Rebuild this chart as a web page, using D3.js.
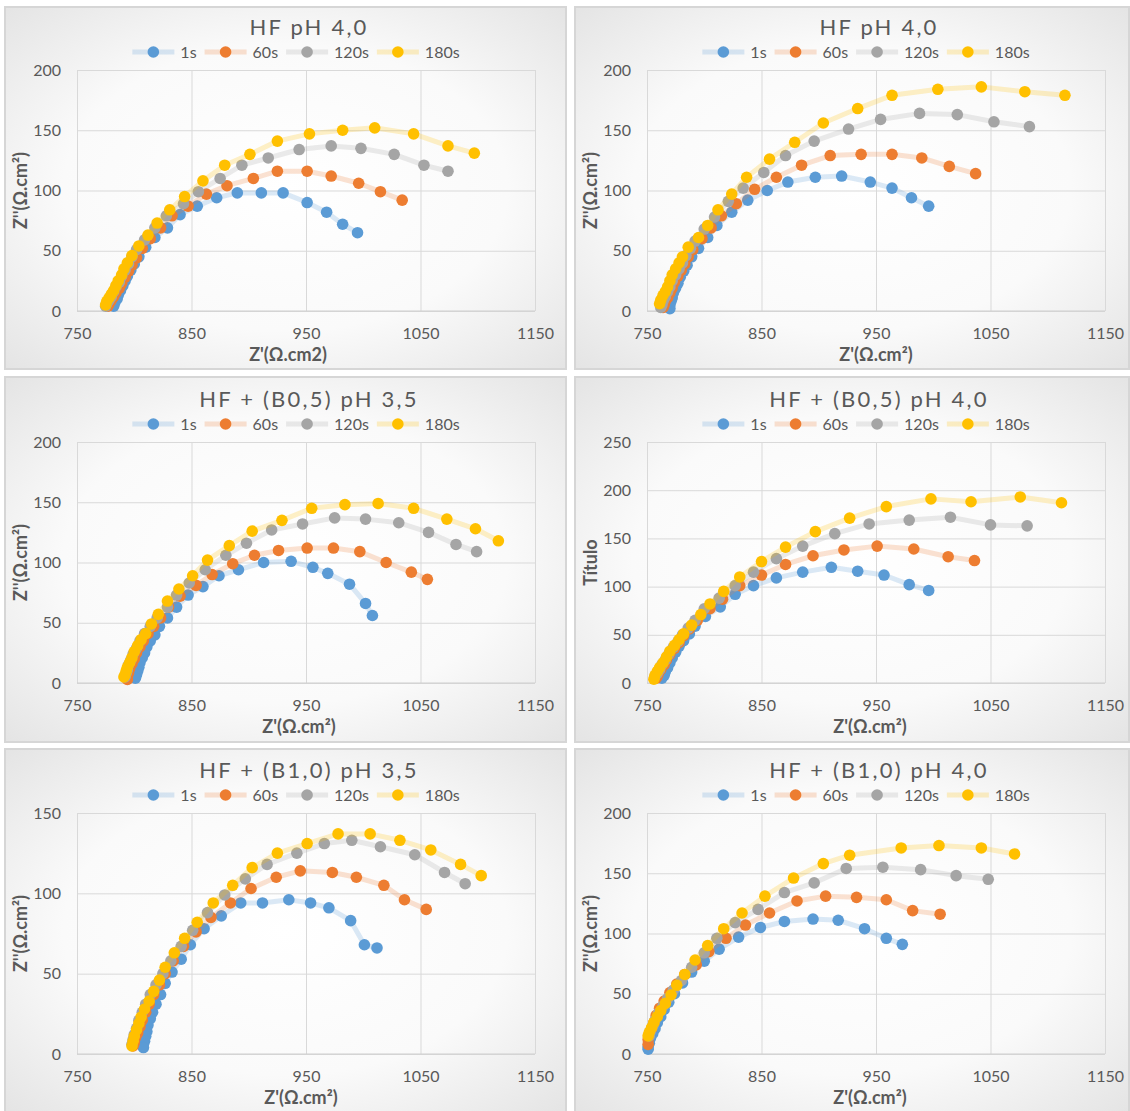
<!DOCTYPE html>
<html>
<head>
<meta charset="utf-8">
<script src="https://cdn.jsdelivr.net/npm/d3@7"></script>
<style>
body { margin: 0; background: #ffffff; }
text { font-family: Lato, "Open Sans", sans-serif; fill: #595959; }
</style>
</head>
<body>
<div id="chart"></div>
<script>
// Panel texts
const panelTitles = ["HF pH 4,0", "HF pH 4,0", "HF + (B0,5) pH 3,5", "HF + (B0,5) pH 4,0", "HF + (B1,0) pH 3,5", "HF + (B1,0) pH 4,0"];
const xTitles = ["Z'(\u03A9.cm2)", "Z'(\u03A9.cm\u00B2)", "Z'(\u03A9.cm\u00B2)", "Z'(\u03A9.cm\u00B2)", "Z'(\u03A9.cm\u00B2)", "Z'(\u03A9.cm\u00B2)"];
const yTitles = ["Z''(\u03A9.cm\u00B2)", "Z''(\u03A9.cm\u00B2)", "Z''(\u03A9.cm\u00B2)", "T\u00EDtulo", "Z''(\u03A9.cm\u00B2)", "Z''(\u03A9.cm\u00B2)"];
const seriesNames = ["1s", "60s", "120s", "180s"];
const seriesColors = ["#5B9BD5", "#ED7D31", "#A5A5A5", "#FFC000"];

// Tick values
const xTicks = [750, 850, 950, 1050, 1150];
const yTicks200 = [0, 50, 100, 150, 200];
const yTicks250 = [0, 50, 100, 150, 200, 250];
const yTicks150 = [0, 50, 100, 150];
const panelYTicks = [yTicks200, yTicks200, yTicks200, yTicks250, yTicks150, yTicks200];

// [Z', Z''] points
const pA_1s = [[995,65],[982,72],[968,82],[951,90],[930,98],[911,98],[890,98],[872,94],[855,87],[840,80],[829,69],[818,61],[810,53],[804,45],[800,39],[797,34],[794,29],[792,25],[790,21],[788,17],[786,13],[785,10],[783,7],[782,4]];
const pA_60s = [[1034,92],[1015,99],[996,106],[972,112],[951,116],[925,116],[904,110],[881,104],[863,97],[847,87],[833,79],[823,69],[814,60],[807,52],[802,44],[798,38],[795,33],[792,28],[789,23],[787,19],[784,15],[782,12],[780,9],[778,6],[777,4]];
const pA_120s = [[1074,116],[1053,121],[1027,130],[998,135],[972,137],[944,134],[917,127],[894,121],[875,110],[856,99],[843,89],[828,79],[818,69],[809,59],[802,51],[798,45],[795,39],[792,34],[789,29],[787,24],[784,20],[782,16],[780,12],[778,9],[776,6],[775,4]];
const pA_180s = [[1097,131],[1074,137],[1044,147],[1010,152],[982,150],[953,147],[925,141],[901,130],[879,121],[860,108],[844,95],[831,84],[820,73],[812,63],[804,54],[798,46],[794,40],[791,35],[789,30],[786,25],[784,21],[782,17],[780,14],[778,11],[776,8],[775,5]];

const pB_1s = [[996,87],[981,94],[964,102],[945,107],[920,112],[897,111],[873,107],[855,100],[838,92],[824,82],[811,71],[803,61],[795,52],[789,45],[785,38],[782,33],[779,28],[777,23],[775,19],[773,15],[772,11],[771,8],[770,5],[770,2]];
const pB_60s = [[1037,114],[1014,120],[990,127],[964,130],[937,130],[910,129],[885,121],[863,111],[844,101],[828,89],[815,79],[806,69],[798,60],[790,51],[786,45],[783,39],[780,34],[777,29],[774,24],[772,19],[770,15],[768,11],[766,8],[765,5],[764,3]];
const pB_120s = [[1084,153],[1053,157],[1021,163],[988,164],[954,159],[926,151],[896,141],[871,129],[852,115],[834,102],[821,91],[809,78],[800,68],[792,58],[788,52],[784,46],[781,40],[778,35],[775,30],[772,25],[770,20],[768,16],[766,12],[764,8],[763,5],[762,3]];
const pB_180s = [[1115,179],[1080,182],[1042,186],[1004,184],[964,179],[934,168],[904,156],[879,140],[857,126],[837,111],[824,97],[812,84],[803,71],[795,61],[786,53],[781,45],[778,40],[775,35],[772,30],[770,25],[768,20],[766,16],[764,13],[762,9],[761,6]];

const pC_1s = [[1008,56],[1002,66],[988,82],[969,91],[956,96],[937,101],[913,100],[891,94],[874,89],[860,80],[847,73],[837,63],[829,54],[822,47],[818,40],[814,35],[811,30],[809,25],[807,21],[805,17],[804,13],[803,10],[802,7],[801,4]];
const pC_60s = [[1056,86],[1042,92],[1020,100],[997,109],[974,112],[951,112],[926,110],[905,106],[886,99],[868,90],[854,81],[840,72],[830,63],[823,54],[817,47],[812,41],[808,35],[805,30],[802,25],[800,20],[798,16],[796,12],[795,8],[794,5],[794,3]];
const pC_120s = [[1099,109],[1081,115],[1057,125],[1031,133],[1002,136],[975,137],[947,132],[920,127],[898,116],[880,106],[862,94],[848,83],[837,73],[829,63],[820,54],[814,47],[809,41],[805,35],[802,29],[799,24],[797,19],[795,15],[794,11],[793,8],[792,5]];
const pC_180s = [[1118,118],[1098,128],[1073,136],[1044,145],[1013,149],[984,148],[955,145],[929,135],[903,126],[883,114],[864,102],[851,89],[839,78],[829,68],[821,57],[815,49],[810,41],[806,36],[803,31],[800,26],[798,21],[796,17],[794,13],[793,10],[792,7],[791,5]];

const pD_1s = [[996,96],[979,102],[957,112],[934,116],[911,120],[886,115],[863,109],[843,101],[827,92],[814,79],[801,69],[792,59],[787,51],[782,44],[778,38],[775,32],[772,26],[770,21],[768,16],[766,12],[765,8],[763,5]];
const pD_60s = [[1036,127],[1013,131],[983,139],[951,142],[922,138],[895,132],[871,123],[850,112],[831,101],[816,87],[805,77],[794,65],[787,56],[782,49],[778,42],[774,36],[770,30],[767,24],[765,19],[762,14],[760,10],[759,7],[758,5]];
const pD_120s = [[1082,163],[1050,164],[1015,172],[979,169],[944,165],[914,155],[886,142],[863,129],[843,115],[827,101],[813,88],[800,77],[792,65],[786,57],[781,50],[777,43],[773,37],[769,30],[766,24],[763,19],[761,14],[759,10],[757,7]];
const pD_180s = [[1112,187],[1076,193],[1033,188],[998,191],[959,183],[927,171],[897,157],[871,141],[850,126],[831,110],[817,95],[805,82],[797,71],[789,60],[782,51],[778,45],[774,39],[770,33],[767,27],[764,21],[761,16],[759,12],[757,8],[756,4]];

const pE_1s = [[1012,66],[1001,68],[989,83],[970,91],[954,94],[935,96],[912,94],[893,94],[876,86],[861,78],[849,68],[841,59],[833,51],[827,44],[823,37],[819,31],[816,26],[814,22],[812,18],[811,14],[810,11],[809,8],[808,6],[808,4]];
const pE_60s = [[1055,90],[1036,96],[1018,105],[994,110],[973,113],[945,114],[924,110],[902,103],[884,94],[867,85],[854,76],[843,67],[834,58],[827,50],[822,43],[817,37],[813,31],[810,26],[807,21],[805,17],[803,13],[801,10],[800,7],[799,5]];
const pE_120s = [[1089,106],[1071,113],[1045,124],[1015,129],[990,133],[966,131],[942,125],[916,118],[897,109],[879,99],[864,88],[851,77],[841,67],[832,58],[825,50],[819,43],[814,37],[810,31],[807,26],[804,21],[802,16],[800,12],[799,9],[798,6]];
const pE_180s = [[1103,111],[1085,118],[1059,127],[1032,133],[1006,137],[978,137],[951,131],[925,125],[903,116],[886,105],[869,94],[855,82],[844,72],[835,63],[827,54],[822,46],[817,39],[813,33],[809,28],[806,23],[804,19],[802,15],[800,11],[799,8],[798,5]];

const pF_1s = [[973,91],[959,96],[940,104],[917,111],[895,112],[870,110],[849,105],[830,97],[813,87],[800,77],[789,68],[781,59],[774,50],[769,43],[765,37],[762,31],[759,26],[757,21],[755,17],[753,13],[752,9],[751,6],[751,4]];
const pF_60s = [[1006,116],[982,119],[959,128],[933,130],[906,131],[881,127],[857,117],[836,107],[819,96],[804,85],[793,74],[783,66],[776,58],[770,51],[765,44],[761,38],[758,32],[756,26],[754,21],[752,16],[751,12],[751,8]];
const pF_120s = [[1048,145],[1020,148],[989,153],[956,155],[924,154],[896,142],[870,134],[847,120],[827,109],[811,96],[800,84],[789,72],[780,61],[773,53],[768,46],[764,40],[760,34],[757,28],[755,23],[753,19],[752,15]];
const pF_180s = [[1071,166],[1042,171],[1005,173],[972,171],[927,165],[904,158],[878,146],[853,131],[833,117],[817,104],[803,90],[792,78],[783,66],[776,57],[771,49],[766,42],[762,36],[759,31],[756,26],[754,22],[752,18],[751,15]];

const panelSeries = [
    [pA_1s, pA_60s, pA_120s, pA_180s],
    [pB_1s, pB_60s, pB_120s, pB_180s],
    [pC_1s, pC_60s, pC_120s, pC_180s],
    [pD_1s, pD_60s, pD_120s, pD_180s],
    [pE_1s, pE_60s, pE_120s, pE_180s],
    [pF_1s, pF_60s, pF_120s, pF_180s]
];

// Layout of the 3x2 grid
const cols = [{x: 5, w: 561}, {x: 575, w: 554}];
const rows = [{y: 7, h: 362, plotTop: 70}, {y: 377, h: 365, plotTop: 442}, {y: 749, h: 364, plotTop: 813}];
const plotW = 458, plotH = 241, plotDx = 72;
const xTitleShift = [-18, 0, -7, -6, -5, -6];

const svg = d3.select("#chart")
    .append("svg")
    .attr("width", 1130)
    .attr("height", 1111);

const grad = svg.append("defs").append("radialGradient")
    .attr("id", "panelBg")
    .attr("cx", "50%").attr("cy", "50%").attr("r", "72%");
grad.append("stop").attr("offset", "0%").attr("stop-color", "#ffffff");
grad.append("stop").attr("offset", "55%").attr("stop-color", "#fafafa");
grad.append("stop").attr("offset", "100%").attr("stop-color", "#e3e3e3");

panelTitles.forEach((title, i) => {
    const col = cols[i % 2], row = rows[Math.floor(i / 2)];
    const left = col.x + plotDx, top = row.plotTop, bottom = top + plotH;
    const cx = left + plotW / 2;
    const yTicks = panelYTicks[i];

    const g = svg.append("g");

    g.append("rect")
        .attr("x", col.x).attr("y", row.y)
        .attr("width", col.w).attr("height", row.h)
        .attr("fill", "url(#panelBg)")
        .attr("stroke", "#d6d6d6")
        .attr("stroke-width", 2);

    const x = d3.scaleLinear().domain([750, 1150]).range([left, left + plotW]);
    const y = d3.scaleLinear().domain([0, d3.max(yTicks)]).range([bottom, top]);

    // vertical grid + x labels
    const gx = g.append("g")
        .attr("transform", `translate(0,${bottom})`)
        .call(d3.axisBottom(x).tickValues(xTicks).tickFormat(d3.format("d")).tickSize(-plotH).tickPadding(17));
    gx.select(".domain").remove();
    gx.selectAll("line").attr("stroke", "#d9d9d9");
    gx.selectAll("text").attr("font-size", 16).attr("fill", "#595959");

    // horizontal grid + y labels
    const gy = g.append("g")
        .attr("transform", `translate(${left},0)`)
        .call(d3.axisLeft(y).tickValues(yTicks).tickFormat(d3.format("d")).tickSize(-plotW).tickPadding(16));
    gy.select(".domain").remove();
    gy.selectAll("line").attr("stroke", "#d9d9d9");
    gy.selectAll("text").attr("font-size", 16).attr("fill", "#595959");

    // x axis line
    g.append("line")
        .attr("x1", left).attr("x2", left + plotW)
        .attr("y1", bottom).attr("y2", bottom)
        .attr("stroke", "#cfcfcf");

    const line = d3.line()
        .x(d => x(d[0]))
        .y(d => y(d[1]));

    panelSeries[i].forEach((pts, k) => {
        g.append("path")
            .attr("d", line(pts))
            .attr("fill", "none")
            .attr("stroke", seriesColors[k])
            .attr("stroke-opacity", 0.22)
            .attr("stroke-width", 5)
            .attr("stroke-linejoin", "round");
        g.selectAll(null)
            .data(pts)
            .enter()
            .append("circle")
            .attr("cx", d => x(d[0]))
            .attr("cy", d => y(d[1]))
            .attr("r", 5.8)
            .attr("fill", seriesColors[k]);
    });

    // title
    g.append("text")
        .attr("x", cx + 3)
        .attr("y", top - 35)
        .attr("text-anchor", "middle")
        .attr("font-size", 22)
        .attr("letter-spacing", 2.2)
        .text(title);

    // legend
    const legend = g.append("g");
    let lx = 0;
    seriesNames.forEach((name, k) => {
        legend.append("line")
            .attr("x1", lx).attr("x2", lx + 42)
            .attr("y1", 0).attr("y2", 0)
            .attr("stroke", seriesColors[k])
            .attr("stroke-opacity", 0.22)
            .attr("stroke-width", 5);
        legend.append("circle")
            .attr("cx", lx + 21).attr("cy", 0)
            .attr("r", 5.8)
            .attr("fill", seriesColors[k]);
        const t = legend.append("text")
            .attr("x", lx + 48)
            .attr("y", 6)
            .attr("font-size", 16)
            .text(name);
        lx += 48 + t.node().getComputedTextLength() + 8;
    });
    lx -= 8;
    legend.attr("transform", `translate(${cx - 10 - lx / 2},${top - 18})`);

    // axis titles
    g.append("text")
        .attr("x", cx + xTitleShift[i])
        .attr("y", bottom + 50)
        .attr("text-anchor", "middle")
        .attr("font-size", 18)
        .attr("font-weight", "bold")
        .text(xTitles[i]);

    g.append("text")
        .attr("transform", `translate(${left - 50},${(top + bottom) / 2}) rotate(-90)`)
        .attr("text-anchor", "middle")
        .attr("font-size", 18)
        .attr("font-weight", "bold")
        .text(yTitles[i]);
});
</script>
</body>
</html>
